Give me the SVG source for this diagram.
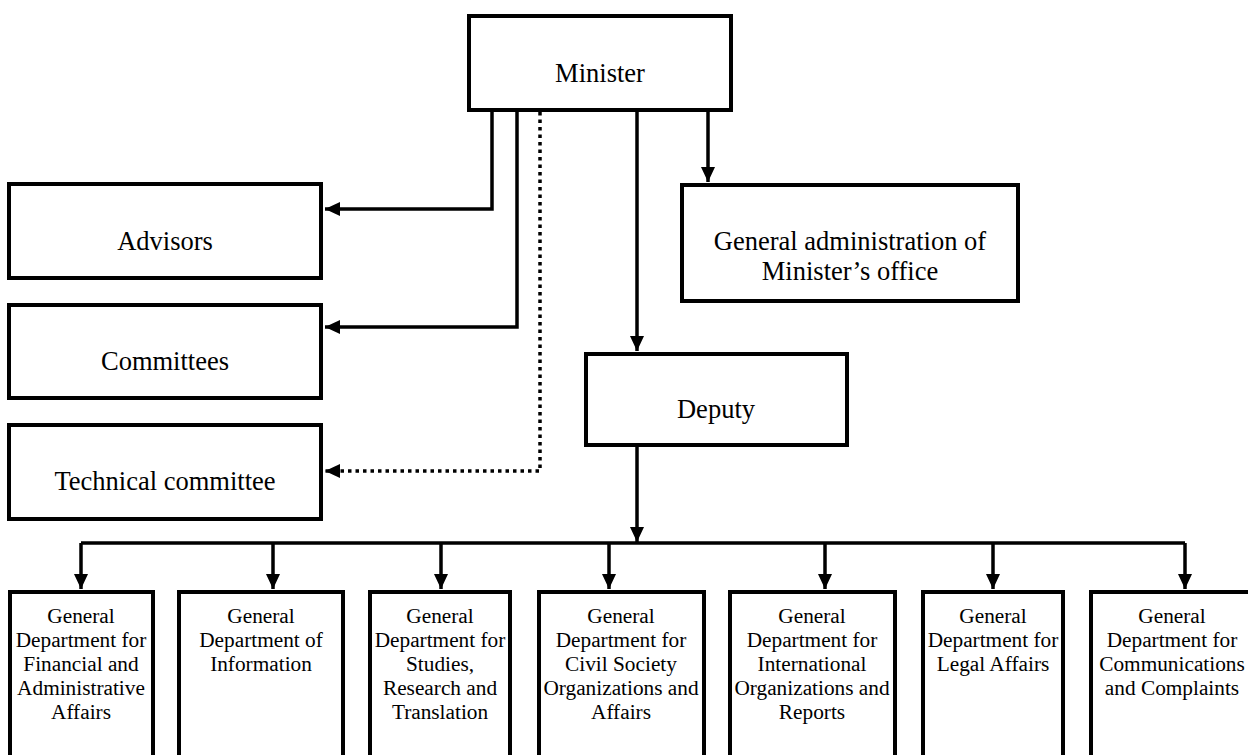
<svg xmlns="http://www.w3.org/2000/svg" width="1248" height="755" viewBox="0 0 1248 755">
<style>
.box{fill:#fff;stroke:#000;stroke-width:4}
.t{font-family:"Liberation Serif","Times New Roman",serif;font-size:26.5px;fill:#000;text-anchor:middle}
.d{font-family:"Liberation Serif","Times New Roman",serif;font-size:21.3px;fill:#000;text-anchor:middle}
.c{fill:none;stroke:#000;stroke-width:3.5}
.dot{fill:none;stroke:#000;stroke-width:3.5;stroke-dasharray:3.5 4}
</style>
<defs>
<marker id="ah" markerUnits="userSpaceOnUse" markerWidth="16" markerHeight="14" refX="15" refY="7" orient="auto">
<path d="M0,0 L15,7 L0,14 z" fill="#000"/>
</marker>
</defs>
<rect width="1248" height="755" fill="#fff"/>
<g id="connectors">
<path class="c" d="M492,112 V209 H325" marker-end="url(#ah)"/>
<path class="c" d="M517,112 V327 H325" marker-end="url(#ah)"/>
<path class="dot" d="M540,112 V471 H325" marker-end="url(#ah)"/>
<path class="c" d="M637,112 V351" marker-end="url(#ah)"/>
<path class="c" d="M708,112 V182" marker-end="url(#ah)"/>
<path class="c" d="M637,447 V542" marker-end="url(#ah)"/>
<path class="c" d="M81,543 H1185"/>
<path class="c" d="M81,543 V589" marker-end="url(#ah)"/>
<path class="c" d="M273,543 V589" marker-end="url(#ah)"/>
<path class="c" d="M441,543 V589" marker-end="url(#ah)"/>
<path class="c" d="M609,543 V589" marker-end="url(#ah)"/>
<path class="c" d="M825,543 V589" marker-end="url(#ah)"/>
<path class="c" d="M993,543 V589" marker-end="url(#ah)"/>
<path class="c" d="M1185,543 V589" marker-end="url(#ah)"/>
</g>
<g id="minister"><rect class="box" x="469" y="16" width="262" height="94"/><text class="t" x="600" y="82">Minister</text></g>
<g id="advisors"><rect class="box" x="9" y="184" width="312" height="94"/><text class="t" x="165" y="250">Advisors</text></g>
<g id="committees"><rect class="box" x="9" y="305" width="312" height="93"/><text class="t" x="165" y="370">Committees</text></g>
<g id="technical"><rect class="box" x="9" y="425" width="312" height="94"/><text class="t" x="165" y="490">Technical committee</text></g>
<g id="admin"><rect class="box" x="682" y="185" width="336" height="116"/><text class="t" x="850" y="250">General administration of</text><text class="t" x="850" y="280">Minister’s office</text></g>
<g id="deputy"><rect class="box" x="586" y="354" width="261" height="91"/><text class="t" x="716" y="418">Deputy</text></g>
<g id="dept1"><rect class="box" x="10" y="592" width="143" height="200"/><text class="d" x="81" y="623">General</text><text class="d" x="81" y="647">Department for</text><text class="d" x="81" y="671">Financial and</text><text class="d" x="81" y="695">Administrative</text><text class="d" x="81" y="719">Affairs</text></g>
<g id="dept2"><rect class="box" x="179" y="592" width="164" height="200"/><text class="d" x="261" y="623">General</text><text class="d" x="261" y="647">Department of</text><text class="d" x="261" y="671">Information</text></g>
<g id="dept3"><rect class="box" x="370" y="592" width="140" height="200"/><text class="d" x="440" y="623">General</text><text class="d" x="440" y="647">Department for</text><text class="d" x="440" y="671">Studies,</text><text class="d" x="440" y="695">Research and</text><text class="d" x="440" y="719">Translation</text></g>
<g id="dept4"><rect class="box" x="539" y="592" width="165" height="200"/><text class="d" x="621" y="623">General</text><text class="d" x="621" y="647">Department for</text><text class="d" x="621" y="671">Civil Society</text><text class="d" x="621" y="695">Organizations and</text><text class="d" x="621" y="719">Affairs</text></g>
<g id="dept5"><rect class="box" x="730" y="592" width="165" height="200"/><text class="d" x="812" y="623">General</text><text class="d" x="812" y="647">Department for</text><text class="d" x="812" y="671">International</text><text class="d" x="812" y="695">Organizations and</text><text class="d" x="812" y="719">Reports</text></g>
<g id="dept6"><rect class="box" x="923" y="592" width="140" height="200"/><text class="d" x="993" y="623">General</text><text class="d" x="993" y="647">Department for</text><text class="d" x="993" y="671">Legal Affairs</text></g>
<g id="dept7"><rect class="box" x="1091" y="592" width="160" height="200"/><text class="d" x="1172" y="623">General</text><text class="d" x="1172" y="647">Department for</text><text class="d" x="1172" y="671">Communications</text><text class="d" x="1172" y="695">and Complaints</text></g>
</svg>
